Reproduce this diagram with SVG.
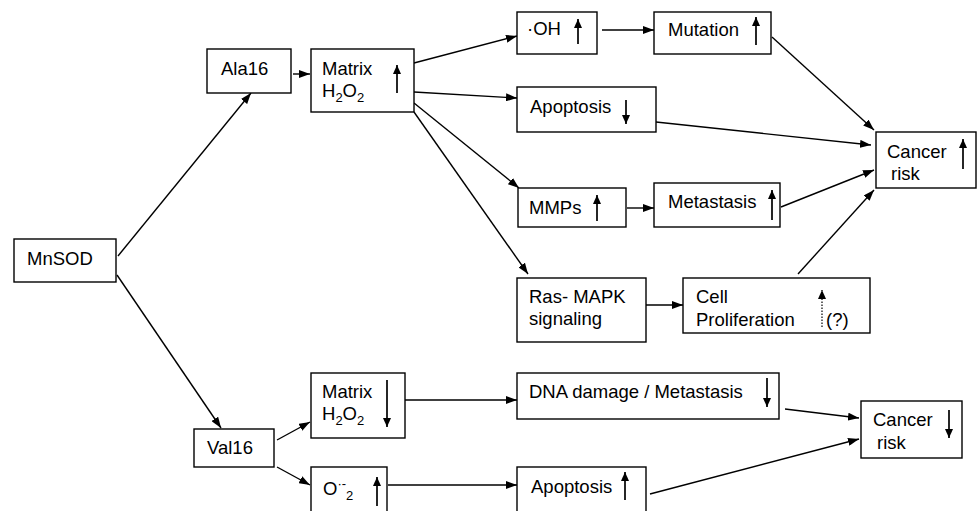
<svg xmlns="http://www.w3.org/2000/svg" width="979" height="511" viewBox="0 0 979 511">
<style>
  .box{fill:#fff;stroke:#000;stroke-width:1.4}
  .t{font-family:"Liberation Sans",Arial,sans-serif;font-size:18.5px;fill:#000}
  .sub{font-size:13px}
  .c{fill:none;stroke:#000;stroke-width:1.4}
  .ind{fill:none;stroke:#000;stroke-width:1.7}
  .dot{fill:none;stroke:#000;stroke-width:1.2;stroke-dasharray:1.5 1.5}
</style>
<defs>
  <marker id="ah" markerUnits="userSpaceOnUse" markerWidth="12" markerHeight="8" refX="11" refY="4" orient="auto">
    <path d="M0,0 L11,4 L0,8 z" fill="#000"/>
  </marker>
  <marker id="ih" markerUnits="userSpaceOnUse" markerWidth="10" markerHeight="8" refX="9" refY="4" orient="auto">
    <path d="M0,0 L9,4 L0,8 z" fill="#000"/>
  </marker>
</defs>
<rect width="979" height="511" fill="#fff"/>

<g id="connectors">
  <path class="c" d="M118,256 L251,93" marker-end="url(#ah)"/>
  <path class="c" d="M293,74 L310,74" marker-end="url(#ah)"/>
  <path class="c" d="M414,63 L517,36" marker-end="url(#ah)"/>
  <path class="c" d="M414,92 L517,98" marker-end="url(#ah)"/>
  <path class="c" d="M414,103 L519,188" marker-end="url(#ah)"/>
  <path class="c" d="M414,112 L528,274" marker-end="url(#ah)"/>
  <path class="c" d="M602,30 L654,30" marker-end="url(#ah)"/>
  <path class="c" d="M627,208 L654,208" marker-end="url(#ah)"/>
  <path class="c" d="M646,305 L683,305" marker-end="url(#ah)"/>
  <path class="c" d="M772,37 L874,130" marker-end="url(#ah)"/>
  <path class="c" d="M656,122 L871,145" marker-end="url(#ah)"/>
  <path class="c" d="M781,207 L874,170" marker-end="url(#ah)"/>
  <path class="c" d="M798,274 L874,190" marker-end="url(#ah)"/>
  <path class="c" d="M117,275 L221,428" marker-end="url(#ah)"/>
  <path class="c" d="M277,440 L310,422" marker-end="url(#ah)"/>
  <path class="c" d="M277,467 L310,485" marker-end="url(#ah)"/>
  <path class="c" d="M405,400 L517,400" marker-end="url(#ah)"/>
  <path class="c" d="M388,485 L517,485" marker-end="url(#ah)"/>
  <path class="c" d="M785,409 L859,418" marker-end="url(#ah)"/>
  <path class="c" d="M650,494 L859,439" marker-end="url(#ah)"/>
</g>

<g id="mnsod">
  <rect class="box" x="14" y="239" width="102" height="43"/>
  <text class="t" x="27" y="265">MnSOD</text>
</g>
<g id="ala16">
  <rect class="box" x="207" y="49" width="84" height="44"/>
  <text class="t" x="221" y="75">Ala16</text>
</g>
<g id="matrix-up">
  <rect class="box" x="311" y="49" width="103" height="63"/>
  <text class="t" x="322" y="75">Matrix</text>
  <text class="t" x="322" y="97">H<tspan class="sub" dy="5">2</tspan><tspan dy="-5">O</tspan><tspan class="sub" dy="5">2</tspan></text>
  <path class="ind" d="M397,93 L397,65" marker-end="url(#ih)"/>
</g>
<g id="oh">
  <rect class="box" x="517" y="12" width="80" height="42"/>
  <text class="t" x="527" y="35">·OH</text>
  <path class="ind" d="M578,44 L578,19" marker-end="url(#ih)"/>
</g>
<g id="mutation">
  <rect class="box" x="654" y="12" width="117" height="42"/>
  <text class="t" x="668" y="36">Mutation</text>
  <path class="ind" d="M756,45 L756,17" marker-end="url(#ih)"/>
</g>
<g id="apoptosis-down">
  <rect class="box" x="517" y="87" width="139" height="45"/>
  <text class="t" x="530" y="113">Apoptosis</text>
  <path class="ind" d="M626,100 L626,124" marker-end="url(#ih)"/>
</g>
<g id="cancer-up">
  <rect class="box" x="876" y="132" width="100" height="56"/>
  <text class="t" x="887" y="158">Cancer</text>
  <text class="t" x="891" y="180">risk</text>
  <path class="ind" d="M963,169 L963,139" marker-end="url(#ih)"/>
</g>
<g id="mmps">
  <rect class="box" x="518" y="188" width="108" height="39"/>
  <text class="t" x="529" y="214">MMPs</text>
  <path class="ind" d="M597,221 L597,195" marker-end="url(#ih)"/>
</g>
<g id="metastasis-up">
  <rect class="box" x="654" y="183" width="126" height="44"/>
  <text class="t" x="668" y="208">Metastasis</text>
  <path class="ind" d="M772,220 L772,190" marker-end="url(#ih)"/>
</g>
<g id="ras-mapk">
  <rect class="box" x="517" y="278" width="129" height="64"/>
  <text class="t" x="529" y="303">Ras- MAPK</text>
  <text class="t" x="529" y="325">signaling</text>
</g>
<g id="cell-proliferation">
  <rect class="box" x="683" y="278" width="187" height="55"/>
  <text class="t" x="696" y="303">Cell</text>
  <text class="t" x="696" y="326">Proliferation</text>
  <path class="dot" d="M822,327 L822,290" marker-end="url(#ih)"/>
  <text class="t" x="826" y="326">(?)</text>
</g>
<g id="val16">
  <rect class="box" x="194" y="429" width="80" height="38"/>
  <text class="t" x="207" y="454">Val16</text>
</g>
<g id="matrix-down">
  <rect class="box" x="311" y="373" width="94" height="65"/>
  <text class="t" x="322" y="398">Matrix</text>
  <text class="t" x="322" y="420">H<tspan class="sub" dy="5">2</tspan><tspan dy="-5">O</tspan><tspan class="sub" dy="5">2</tspan></text>
  <path class="ind" d="M387,380 L387,427" marker-end="url(#ih)"/>
</g>
<g id="superoxide">
  <rect class="box" x="311" y="467" width="76" height="60"/>
  <text class="t" x="323" y="495">O<tspan class="sub" dy="-7">·-</tspan><tspan class="sub" dy="12">2</tspan></text>
  <path class="ind" d="M377,506 L377,477" marker-end="url(#ih)"/>
</g>
<g id="dna-damage">
  <rect class="box" x="517" y="373" width="262" height="46"/>
  <text class="t" x="529" y="398">DNA damage / Metastasis</text>
  <path class="ind" d="M767,378 L767,407" marker-end="url(#ih)"/>
</g>
<g id="apoptosis-up">
  <rect class="box" x="517" y="467" width="129" height="60"/>
  <text class="t" x="531" y="493">Apoptosis</text>
  <path class="ind" d="M625,500 L625,472" marker-end="url(#ih)"/>
</g>
<g id="cancer-down">
  <rect class="box" x="861" y="401" width="101" height="57"/>
  <text class="t" x="873" y="426">Cancer</text>
  <text class="t" x="877" y="449">risk</text>
  <path class="ind" d="M949,410 L949,438" marker-end="url(#ih)"/>
</g>
</svg>
